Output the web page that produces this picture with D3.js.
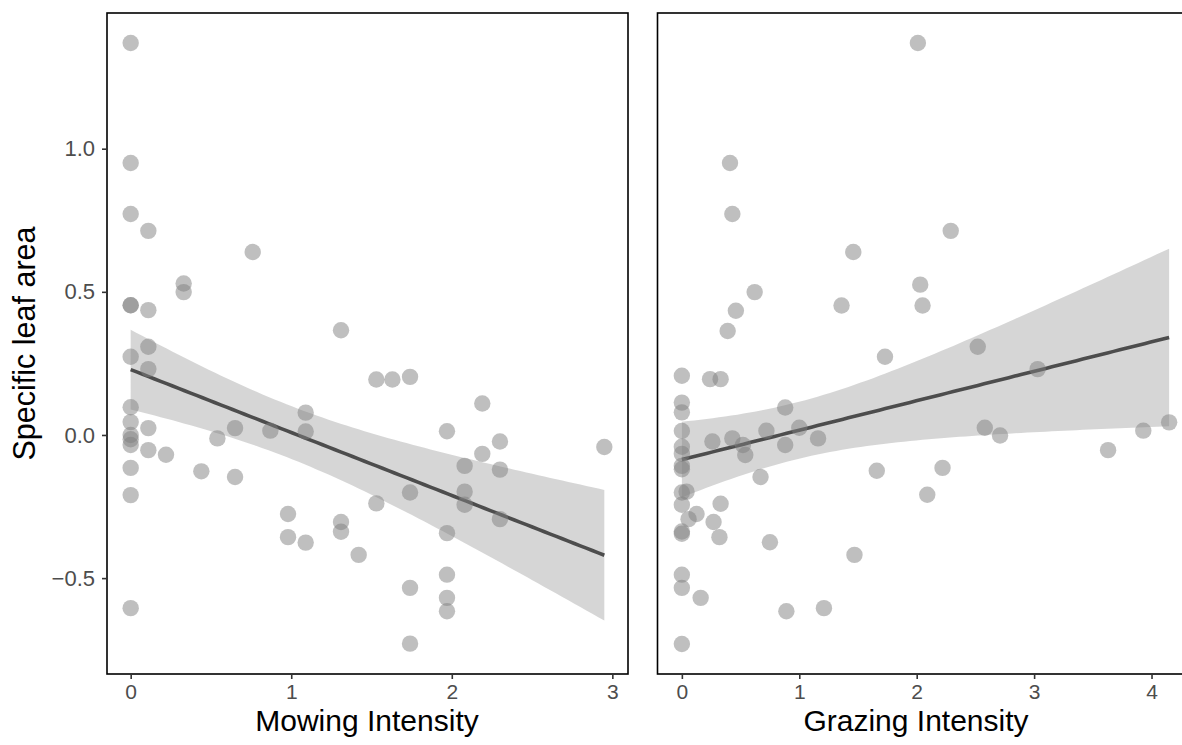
<!DOCTYPE html>
<html>
<head>
<meta charset="utf-8">
<script src="https://cdn.jsdelivr.net/npm/d3@7"></script>
<style>
  html, body { margin: 0; padding: 0; background: #fff; }
  svg { display: block; font-family: "Liberation Sans", Arial, Helvetica, sans-serif; }
</style>
</head>
<body>
<svg id="chart" width="1182" height="745"></svg>
<script>
// ---- Data ----
const yTickValues = [-0.5, 0.0, 0.5, 1.0];
const yTickLabels = ["\u22120.5", "0.0", "0.5", "1.0"];
const yTitle = "Specific leaf area";

const mowingTicks = [0, 1, 2, 3];
const mowingTitle = "Mowing Intensity";
const mowingX = [0, 0, 0, 0.11, 0.76, 0.33, 0.33, 0, 0, 0.11, 1.31, 0.11, 0, 0.11, 1.53, 1.63, 1.74,
  0, 0, 0.11, 0, 0, 0, 0.11, 0.22, 0, 0.44, 0, 0.54, 0.65, 0.65, 0.87, 1.09, 1.09, 0.98, 0.98, 1.09,
  1.31, 1.31, 1.42, 1.53, 0, 2.19, 1.97, 2.30, 2.19, 2.08, 2.30, 2.08, 1.74, 2.95, 2.08, 2.30, 1.97,
  1.97, 1.97, 1.97, 1.74, 1.74];
const mowingY = [1.369, 0.950, 0.772, 0.713, 0.639, 0.529, 0.499, 0.453, 0.453, 0.436, 0.366, 0.308,
  0.273, 0.230, 0.194, 0.194, 0.203, 0.097, 0.045, 0.024, 0.000, -0.015, -0.035, -0.053, -0.069,
  -0.115, -0.127, -0.210, -0.012, 0.024, -0.147, 0.015, 0.078, 0.012, -0.276, -0.357, -0.376,
  -0.304, -0.338, -0.419, -0.239, -0.605, 0.110, 0.013, -0.023, -0.066, -0.108, -0.121, -0.198,
  -0.201, -0.042, -0.244, -0.294, -0.343, -0.488, -0.569, -0.616, -0.534, -0.729];

const grazingTicks = [0, 1, 2, 3, 4];
const grazingTitle = "Grazing Intensity";
const grazingX = [2.01, 0.41, 0.43, 1.46, 0.62, 2.03, 2.05, 1.36, 0.46, 0.39, 2.29, 2.52, 3.03, 2.58,
  2.71, 2.22, 2.09, 3.63, 3.93, 4.15, 1.73, 0, 0.24, 0.33, 0, 0, 0.88, 0, 0.26, 0.43, 0.52, 0.54,
  0.72, 1.00, 0.88, 1.16, 0, 0, 0, 0, 0.67, 1.66, 0, 0.04, 0, 0.125, 0.057, 0.33, 0.27, 0, 0, 0.32,
  0.75, 1.47, 0, 0, 0.16, 0.89, 1.21, 0];
const grazingY = [1.369, 0.950, 0.772, 0.639, 0.499, 0.525, 0.452, 0.452, 0.434, 0.363, 0.713, 0.308,
  0.230, 0.025, -0.002, -0.115, -0.209, -0.053, 0.015, 0.044, 0.273, 0.207, 0.195, 0.195, 0.113,
  0.079, 0.096, 0.014, -0.023, -0.012, -0.035, -0.070, 0.015, 0.025, -0.035, -0.012, -0.041, -0.066,
  -0.108, -0.120, -0.147, -0.125, -0.201, -0.198, -0.244, -0.276, -0.294, -0.240, -0.304, -0.337,
  -0.345, -0.357, -0.375, -0.419, -0.488, -0.534, -0.569, -0.616, -0.605, -0.730];

// ---- Helpers ----
function tQuantile975(df) {
  const z = 1.959964;
  return z + (z ** 3 + z) / (4 * df) + (5 * z ** 5 + 16 * z ** 3 + 3 * z) / (96 * df * df)
    + (3 * z ** 7 + 19 * z ** 5 + 17 * z ** 3 - 15 * z) / (384 * df ** 3);
}
function fitLM(xs, ys) {
  const n = xs.length;
  const mx = d3.mean(xs), my = d3.mean(ys);
  let sxx = 0, sxy = 0;
  for (let i = 0; i < n; i++) { sxx += (xs[i] - mx) ** 2; sxy += (xs[i] - mx) * (ys[i] - my); }
  const b = sxy / sxx, a = my - b * mx;
  let sse = 0;
  for (let i = 0; i < n; i++) sse += (ys[i] - a - b * xs[i]) ** 2;
  const s = Math.sqrt(sse / (n - 2));
  const t = tQuantile975(n - 2);
  const [x0, x1] = d3.extent(xs);
  return d3.range(80).map(k => {
    const xv = x0 + (x1 - x0) * k / 79;
    const fit = a + b * xv;
    const se = s * Math.sqrt(1 / n + (xv - mx) ** 2 / sxx);
    return { x: xv, fit, lo: fit - t * se, hi: fit + t * se };
  });
}
function expand(ext) { const r = ext[1] - ext[0]; return [ext[0] - 0.05 * r, ext[1] + 0.05 * r]; }

const svg = d3.select("#chart");
const plotTop = 13, plotBottom = 674;
const allY = mowingY.concat(grazingY);
const yScale = d3.scaleLinear().domain(expand(d3.extent(allY))).range([plotBottom, plotTop]);

const panels = [
  { xs: mowingX, ys: mowingY, ticks: mowingTicks, title: mowingTitle, left: 107, right: 628, titleX: 367, yAxis: true },
  { xs: grazingX, ys: grazingY, ticks: grazingTicks, title: grazingTitle, left: 657.5, right: 1193.5, titleX: 916, yAxis: false }
];

panels.forEach((p, idx) => {
  const xScale = d3.scaleLinear().domain(expand(d3.extent(p.xs))).range([p.left, p.right]);
  const g = svg.append("g");
  const clipId = "clip" + idx;
  svg.append("defs").append("clipPath").attr("id", clipId)
    .append("rect").attr("x", p.left).attr("y", plotTop).attr("width", p.right - p.left).attr("height", plotBottom - plotTop);
  const plot = g.append("g").attr("clip-path", `url(#${clipId})`);

  const fit = fitLM(p.xs, p.ys);
  plot.append("path").datum(fit)
    .attr("d", d3.area().x(d => xScale(d.x)).y0(d => yScale(d.lo)).y1(d => yScale(d.hi)))
    .attr("fill", "rgb(153,153,153)").attr("fill-opacity", 0.4);
  plot.append("path").datum(fit)
    .attr("d", d3.line().x(d => xScale(d.x)).y(d => yScale(d.fit)))
    .attr("fill", "none").attr("stroke", "#4d4d4d").attr("stroke-width", 3.6);

  plot.selectAll("circle").data(p.xs.map((v, i) => [v, p.ys[i]])).join("circle")
    .attr("cx", d => xScale(d[0])).attr("cy", d => yScale(d[1])).attr("r", 8.2)
    .attr("fill", "#7f7f7f").attr("fill-opacity", 0.5);

  g.append("rect").attr("x", p.left).attr("y", plotTop).attr("width", p.right - p.left).attr("height", plotBottom - plotTop)
    .attr("fill", "none").attr("stroke", "#000").attr("stroke-width", 1.6);

  const xa = g.append("g").attr("transform", `translate(0,${plotBottom})`)
    .call(d3.axisBottom(xScale).tickValues(p.ticks).tickFormat(d3.format("d")).tickSize(5).tickPadding(5));
  xa.select(".domain").remove();
  xa.selectAll(".tick line").attr("stroke", "#333").attr("stroke-width", 1.6);
  xa.selectAll(".tick text").attr("fill", "#4d4d4d").style("font-size", "21px")
    .style("font-family", '"Liberation Sans", Arial, sans-serif');

  g.append("text").attr("x", p.titleX).attr("y", 731).attr("text-anchor", "middle").attr("fill", "#000")
    .style("font-size", "30px").text(p.title);

  if (p.yAxis) {
    const ya = g.append("g").attr("transform", `translate(${p.left},0)`)
      .call(d3.axisLeft(yScale).tickValues(yTickValues).tickFormat((d, i) => yTickLabels[i]).tickSize(5).tickPadding(7));
    ya.select(".domain").remove();
    ya.selectAll(".tick line").attr("stroke", "#333").attr("stroke-width", 1.6);
    ya.selectAll(".tick text").attr("fill", "#4d4d4d").style("font-size", "22px")
      .style("font-family", '"Liberation Sans", Arial, sans-serif');
    svg.append("text").attr("transform", `translate(35,${(plotTop + plotBottom) / 2}) rotate(-90)`)
      .attr("text-anchor", "middle").attr("fill", "#000").style("font-size", "30.5px").text(yTitle);
  }
});
</script>
</body>
</html>
